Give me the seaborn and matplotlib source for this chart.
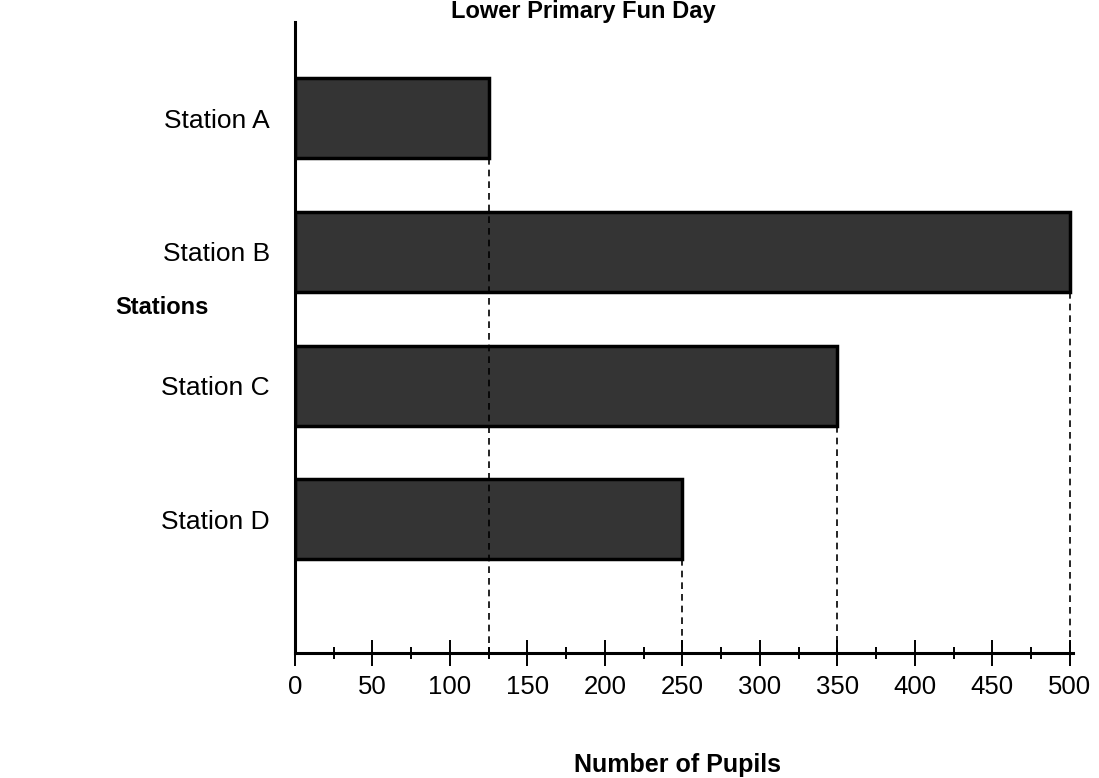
import numpy as np
import pandas as pd
import seaborn as sns
import matplotlib.pyplot as plt
from matplotlib.ticker import MultipleLocator

stations = ["Station A", "Station B", "Station C", "Station D"]
pupils = [125, 500, 350, 250]
x_ticks = [0, 50, 100, 150, 200, 250, 300, 350, 400, 450, 500]

df = pd.DataFrame({"station": stations, "pupils": pupils})

sns.set_style("white")
plt.rcParams["font.family"] = ["Liberation Sans", "DejaVu Sans"]
plt.rcParams["text.color"] = "black"
plt.rcParams["xtick.color"] = "black"
plt.rcParams["ytick.color"] = "black"

fig = plt.figure(figsize=(10.99, 7.78), dpi=100)
W, H = 1099, 778
ax = fig.add_axes([295 / W, (H - 653) / H, 778 / W, (653 - 22) / H])

sns.barplot(data=df, x="pupils", y="station", orient="h", ax=ax,
            color="#343434", width=0.6, edgecolor="black", linewidth=2.5,
            saturation=1)

# dashed guide lines from each bar end down to the axis
ypos = np.arange(len(pupils))
ax.vlines(pupils, ypos + 0.3, 4.0, colors="black", linestyles=(0, (4, 3)),
          linewidth=1.2, zorder=1)

ax.set_xlim(0, 502)
ax.set_ylim(4.0, -0.72)
ax.set_xticks(x_ticks)
ax.xaxis.set_minor_locator(MultipleLocator(25))
ax.tick_params(axis="x", which="major", direction="inout", length=19,
               width=1.4, labelsize=18.5, pad=6, bottom=True)
ax.tick_params(axis="x", which="minor", direction="inout", length=9,
               width=1.4, bottom=True)
ax.tick_params(axis="y", length=0, labelsize=19, pad=18)
ax.set_xlabel("")
ax.set_ylabel("")

for side in ["top", "right"]:
    ax.spines[side].set_visible(False)
ax.spines["left"].set_linewidth(2.2)
ax.spines["bottom"].set_linewidth(2.2)
ax.spines["left"].set_color("black")
ax.spines["bottom"].set_color("black")

fig.text(583 / W, 1 - 18 / H, "Lower Primary Fun Day", ha="center",
         va="baseline", fontsize=17, fontweight="bold")
fig.text(162 / W, 1 - 308 / H, "Stations", ha="center", va="center",
         fontsize=17, fontweight="bold")
fig.text(678 / W, 1 - 765 / H, "Number of Pupils", ha="center", va="center",
         fontsize=18, fontweight="bold")

fig.savefig("out.png", dpi=100)
